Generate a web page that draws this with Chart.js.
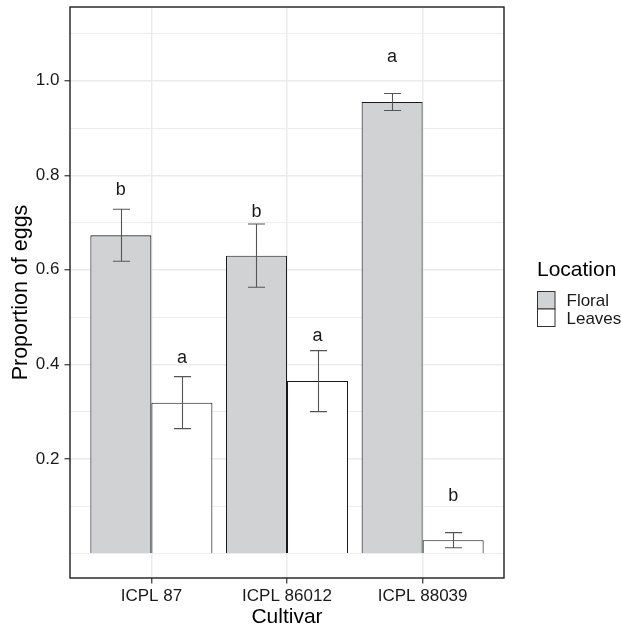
<!DOCTYPE html>
<html>
<head>
<meta charset="utf-8">
<script src="https://cdn.jsdelivr.net/npm/chart.js@4"></script>
<style>
  html, body { margin: 0; padding: 0; background: #ffffff; }
  #wrap { width: 621px; height: 630px; }
</style>
</head>
<body>
<div id="wrap"><canvas id="c" width="621" height="630"></canvas></div>
<script>
// ---- data ----
const cultivars = ['ICPL 87', 'ICPL 86012', 'ICPL 88039'];
const locations = ['Floral', 'Leaves'];
const floralMean = [0.673, 0.630, 0.955];
const floralLow  = [0.618, 0.563, 0.937];
const floralHigh = [0.728, 0.697, 0.973];
const leavesMean = [0.319, 0.365, 0.028];
const leavesLow  = [0.264, 0.300, 0.012];
const leavesHigh = [0.374, 0.429, 0.044];
const floralLetters = ['b', 'b', 'a'];
const leavesLetters = ['a', 'a', 'b'];
const floralLetterY = [0.768, 0.723, 1.050];
const leavesLetterY = [0.414, 0.459, 0.122];
const yTickValues = [0.0, 0.1, 0.2, 0.3, 0.4, 0.5, 0.6, 0.7, 0.8, 0.9, 1.0, 1.1];
const yTickLabels = ['', '', '0.2', '', '0.4', '', '0.6', '', '0.8', '', '1.0', ''];
const xTickValues = [0, 1, 2];

const FONT = '"Liberation Sans", Arial, Helvetica, sans-serif';
const fills = ['#d1d2d4', '#ffffff'];
const lows = [floralLow, leavesLow];
const highs = [floralHigh, leavesHigh];
const letters = [floralLetters, leavesLetters];
const letterY = [floralLetterY, leavesLetterY];

function toPoints(arr) { return arr.map((v, i) => ({ x: xTickValues[i], y: v })); }
function isMajorY(c) { return c.tick && yTickValues.indexOf(c.tick.value) >= 0 && yTickLabels[yTickValues.indexOf(c.tick.value)] !== ''; }

const overlay = {
  id: 'overlay',
  afterDatasetsDraw(chart) {
    const ctx = chart.ctx;
    const ys = chart.scales.y;
    const area = chart.chartArea;
    ctx.save();
    chart.data.datasets.forEach((ds, di) => {
      const meta = chart.getDatasetMeta(di);
      meta.data.forEach((bar, j) => {
        const x = Math.round(bar.x) + 0.5;
        const yT = ys.getPixelForValue(highs[di][j]);
        const yB = ys.getPixelForValue(lows[di][j]);
        const half = bar.width * 0.14;
        ctx.strokeStyle = '#555555';
        ctx.lineWidth = 1.1;
        ctx.beginPath();
        ctx.moveTo(x, yT); ctx.lineTo(x, yB);
        ctx.moveTo(x - half, yT); ctx.lineTo(x + half, yT);
        ctx.moveTo(x - half, yB); ctx.lineTo(x + half, yB);
        ctx.stroke();
        ctx.fillStyle = '#1a1a1a';
        ctx.font = '18px ' + FONT;
        ctx.textAlign = 'center';
        ctx.textBaseline = 'middle';
        ctx.fillText(letters[di][j], bar.x, ys.getPixelForValue(letterY[di][j]));
      });
    });
    ctx.strokeStyle = '#1f1f1f';
    ctx.lineWidth = 1.4;
    ctx.strokeRect(area.left, area.top, area.right - area.left, area.bottom - area.top);
    ctx.restore();
  },
  afterDraw(chart) {
    const ctx = chart.ctx;
    ctx.save();
    const lx = 537.5;
    ctx.fillStyle = '#000000';
    ctx.font = '21px ' + FONT;
    ctx.textAlign = 'left';
    ctx.textBaseline = 'middle';
    ctx.fillText('Location', lx - 0.5, 270);
    const boxTop = 291.5, boxSize = 17.5;
    chart.data.datasets.forEach((ds, i) => {
      const y = boxTop + i * boxSize;
      ctx.fillStyle = ds.backgroundColor;
      ctx.fillRect(lx, y, boxSize, boxSize);
      ctx.strokeStyle = '#333333';
      ctx.lineWidth = 1;
      ctx.strokeRect(lx, y, boxSize, boxSize);
      ctx.fillStyle = '#1a1a1a';
      ctx.font = '17px ' + FONT;
      ctx.fillText(ds.label, 566.5, y + boxSize / 2 + 1.5);
    });
    ctx.restore();
  }
};

new Chart(document.getElementById('c'), {
  type: 'bar',
  data: {
    datasets: [
      { label: locations[0], data: toPoints(floralMean), backgroundColor: fills[0], borderColor: '#1a1a1a', borderWidth: 1.1 },
      { label: locations[1], data: toPoints(leavesMean), backgroundColor: fills[1], borderColor: '#1a1a1a', borderWidth: 1.1 }
    ]
  },
  options: {
    responsive: false,
    animation: false,
    devicePixelRatio: 1,
    datasets: { bar: { categoryPercentage: 0.9, barPercentage: 1.0 } },
    layout: { padding: { left: 0, top: 7, right: 117, bottom: 0 } },
    plugins: { legend: { display: false }, tooltip: { enabled: false } },
    scales: {
      x: {
        type: 'linear',
        offset: false,
        min: -0.6,
        max: 2.6,
        afterBuildTicks(scale) { scale.ticks = xTickValues.map(v => ({ value: v })); },
        afterFit(scale) { scale.height = 52; scale.paddingLeft = 0; scale.paddingRight = 0; },
        border: { display: false },
        grid: { offset: false, color: '#ebebeb', lineWidth: 1.5, tickColor: '#333333', tickLength: 5.5, tickWidth: 1.2 },
        ticks: {
          autoSkip: false, maxRotation: 0, padding: 3,
          color: '#1a1a1a', font: { family: FONT, size: 17 },
          callback: (v) => cultivars[xTickValues.indexOf(v)]
        },
        title: { display: true, text: 'Cultivar', color: '#000000', font: { family: FONT, size: 21 }, padding: { top: 0, bottom: 0 } }
      },
      y: {
        type: 'linear',
        min: -0.052,
        max: 1.156,
        afterBuildTicks(scale) { scale.ticks = yTickValues.map(v => ({ value: v })); },
        afterFit(scale) { scale.width = 70; scale.paddingTop = 0; scale.paddingBottom = 0; },
        border: { display: false },
        grid: {
          color: '#ebebeb',
          lineWidth: (c) => isMajorY(c) ? 1.5 : 0.9,
          tickColor: (c) => isMajorY(c) ? '#333333' : 'rgba(0,0,0,0)',
          tickLength: 5.5,
          tickWidth: 1.2
        },
        ticks: {
          autoSkip: false, padding: 5,
          color: '#1a1a1a', font: { family: FONT, size: 17 },
          callback: (v) => yTickLabels[yTickValues.indexOf(v)]
        },
        title: { display: true, text: 'Proportion of eggs', color: '#000000', font: { family: FONT, size: 21.5 }, padding: { top: 8, bottom: 0 } }
      }
    }
  },
  plugins: [overlay]
});
</script>
</body>
</html>
